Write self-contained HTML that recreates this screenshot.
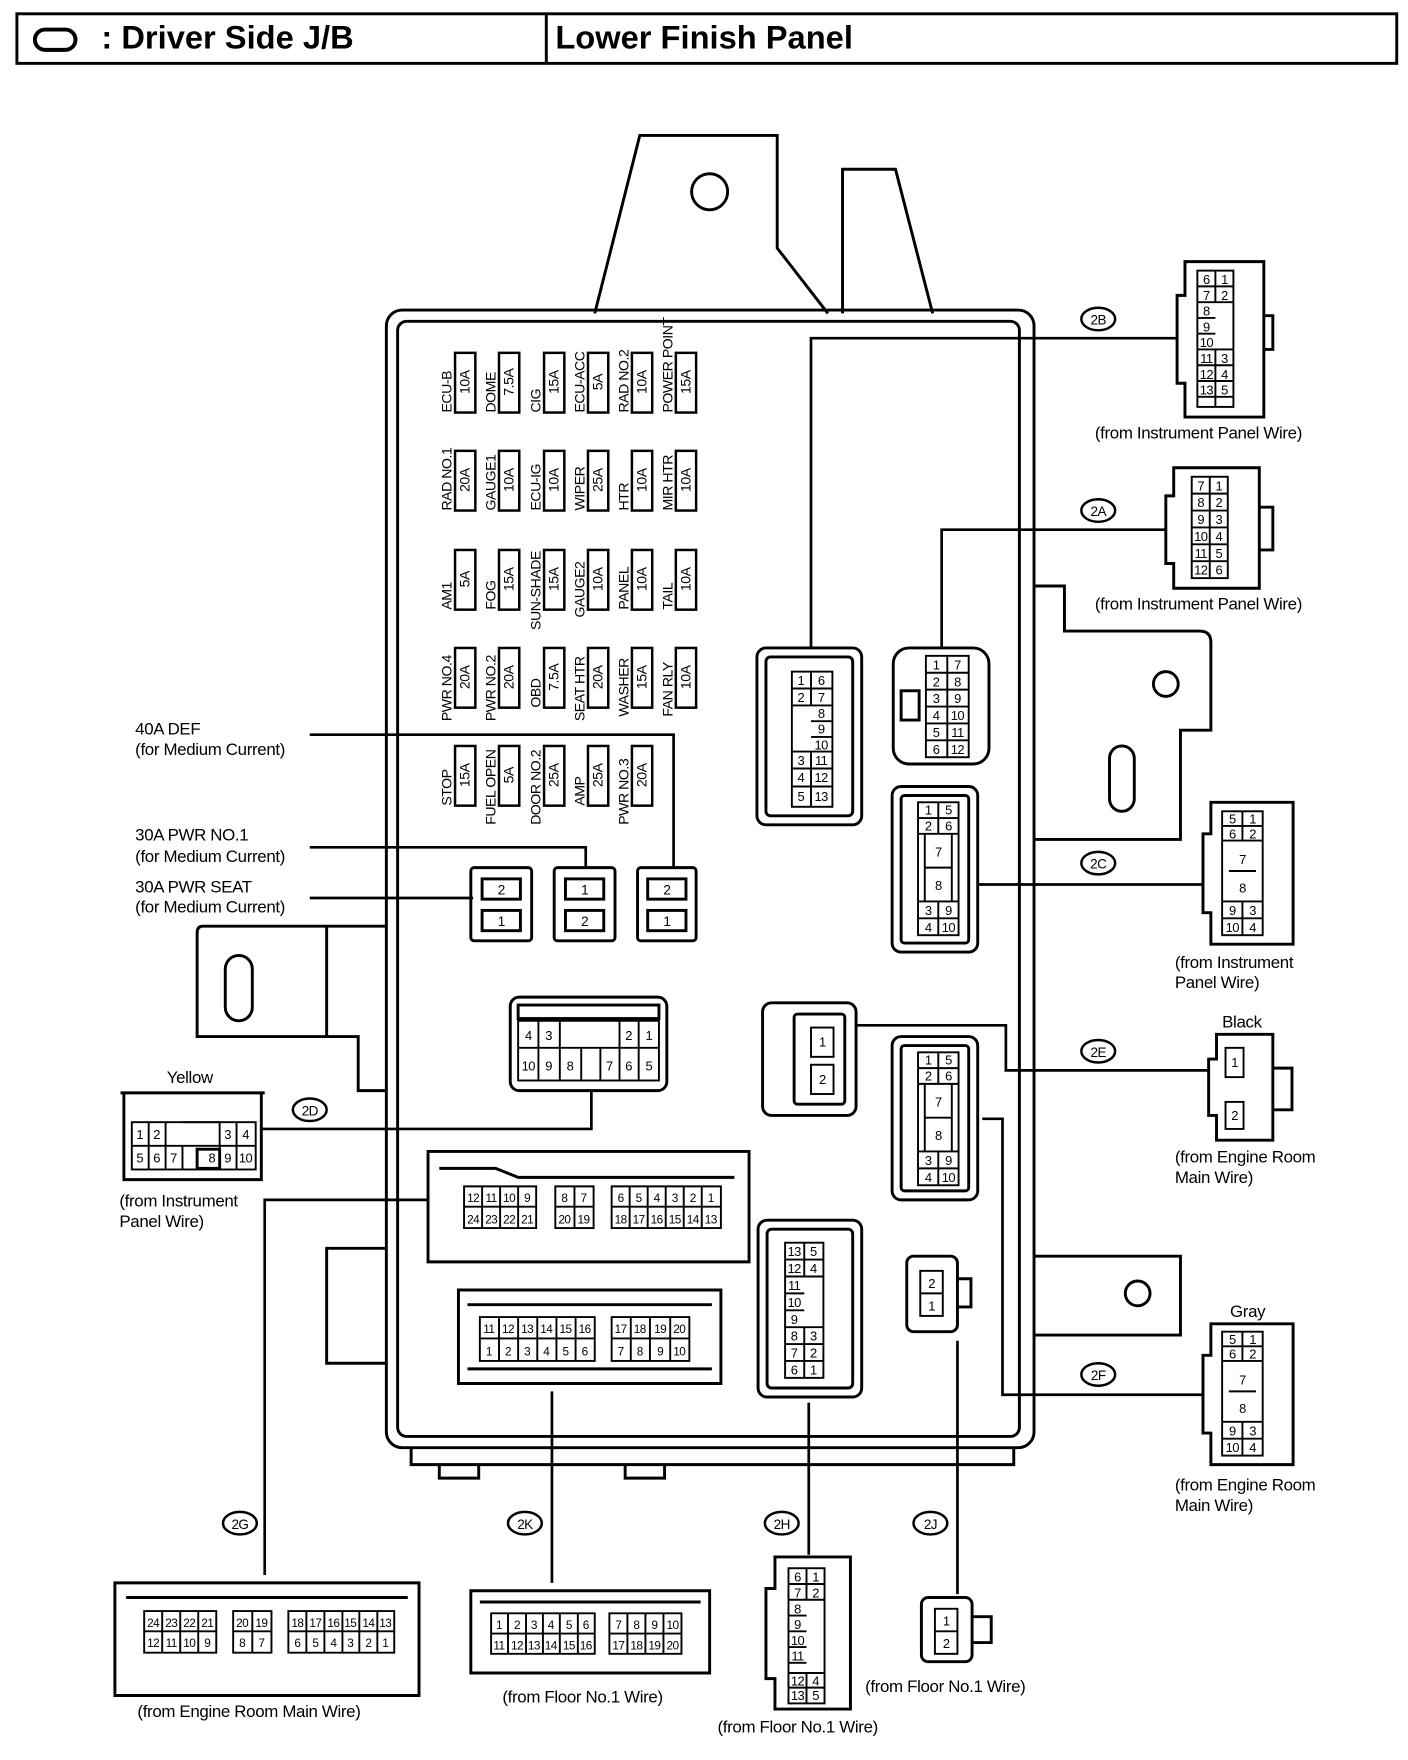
<!DOCTYPE html>
<html><head><meta charset="utf-8"><style>
html,body{margin:0;padding:0;background:#fff}
svg{display:block}
text{font-family:"Liberation Sans Narrow","Liberation Sans",sans-serif;fill:#000}
.c{font-size:12px;text-anchor:middle;letter-spacing:-0.5px}
.l{font-size:15px;letter-spacing:-0.3px}
.f{font-size:12.5px;letter-spacing:-0.4px}
</style></head><body>
<svg width="1408" height="1760" viewBox="0 0 1250 1562" xmlns="http://www.w3.org/2000/svg">
<g fill="none" stroke="#000" stroke-width="2.6">
<rect x="15" y="12" width="1225" height="44"/>
<line x1="485" y1="12" x2="485" y2="56"/>
<rect x="31" y="26" width="36" height="18" rx="9" stroke-width="3.5"/>
<path d="M528 278 L568 120 L690 120 L690 220 L735 278"/>
<circle cx="630" cy="170" r="16"/>
<path d="M748 278 L748 150 L795 150 L828 278"/>
<rect x="343" y="275" width="575" height="1010" rx="14"/>
<rect x="353" y="285" width="552" height="990" rx="8"/>
<path d="M918 520 L945 520 L945 560 L1065 560 Q1075 560 1075 570 L1075 648 L1048 648 L1048 745 L918 745"/>
<circle cx="1035" cy="607" r="11"/>
<rect x="985" y="662" width="22" height="58" rx="11"/>
<path d="M918 1115 L1048 1115 L1048 1185 L918 1185"/>
<circle cx="1010" cy="1148" r="11"/>
<path d="M343 822 L180 822 Q175 822 175 828 L175 920 L318 920 L318 968 L343 968"/>
<rect x="200" y="848" width="24" height="58" rx="12"/>
<line x1="290" y1="822" x2="290" y2="920"/>
<path d="M343 1108 L290 1108 L290 1210 L343 1210"/>
<path d="M365 1285 L365 1300 L900 1300 L900 1285"/>
<path d="M390 1300 L390 1312 L425 1312 L425 1300 M555 1300 L555 1312 L590 1312 L590 1300"/>
</g>
<text x="90" y="43" style="font-family:'Liberation Sans',sans-serif;font-size:29px;font-weight:bold">: Driver Side J/B</text>
<text x="493" y="43" style="font-family:'Liberation Sans',sans-serif;font-size:29px;font-weight:bold">Lower Finish Panel</text>

<g fill="none" stroke="#000" stroke-width="2.2">
<g id="fr"><rect x="404" y="313" width="18" height="53"/><rect x="443" y="313" width="18" height="53"/><rect x="483" y="313" width="18" height="53"/><rect x="522" y="313" width="18" height="53"/><rect x="561" y="313" width="18" height="53"/><rect x="600" y="313" width="18" height="53"/></g>
<use href="#fr" y="87"/><use href="#fr" y="175"/><use href="#fr" y="262"/>
<rect x="404" y="662" width="18" height="53"/><rect x="443" y="662" width="18" height="53"/><rect x="483" y="662" width="18" height="53"/><rect x="522" y="662" width="18" height="53"/><rect x="561" y="662" width="18" height="53"/>
</g>
<g class="f">
<text transform="translate(401,366) rotate(-90)">ECU-B</text><text transform="translate(417,339) rotate(-90)" text-anchor="middle">10A</text>
<text transform="translate(440,366) rotate(-90)">DOME</text><text transform="translate(456,339) rotate(-90)" text-anchor="middle">7.5A</text>
<text transform="translate(480,366) rotate(-90)">CIG</text><text transform="translate(496,339) rotate(-90)" text-anchor="middle">15A</text>
<text transform="translate(519,366) rotate(-90)">ECU-ACC</text><text transform="translate(535,339) rotate(-90)" text-anchor="middle">5A</text>
<text transform="translate(558,366) rotate(-90)">RAD NO.2</text><text transform="translate(574,339) rotate(-90)" text-anchor="middle">10A</text>
<text transform="translate(597,366) rotate(-90)">POWER POINT</text><text transform="translate(613,339) rotate(-90)" text-anchor="middle">15A</text>
<text transform="translate(401,453) rotate(-90)">RAD NO.1</text><text transform="translate(417,426) rotate(-90)" text-anchor="middle">20A</text>
<text transform="translate(440,453) rotate(-90)">GAUGE1</text><text transform="translate(456,426) rotate(-90)" text-anchor="middle">10A</text>
<text transform="translate(480,453) rotate(-90)">ECU-IG</text><text transform="translate(496,426) rotate(-90)" text-anchor="middle">10A</text>
<text transform="translate(519,453) rotate(-90)">WIPER</text><text transform="translate(535,426) rotate(-90)" text-anchor="middle">25A</text>
<text transform="translate(558,453) rotate(-90)">HTR</text><text transform="translate(574,426) rotate(-90)" text-anchor="middle">10A</text>
<text transform="translate(597,453) rotate(-90)">MIR HTR</text><text transform="translate(613,426) rotate(-90)" text-anchor="middle">10A</text>
<text transform="translate(401,541) rotate(-90)">AM1</text><text transform="translate(417,514) rotate(-90)" text-anchor="middle">5A</text>
<text transform="translate(440,541) rotate(-90)">FOG</text><text transform="translate(456,514) rotate(-90)" text-anchor="middle">15A</text>
<text transform="translate(480,559) rotate(-90)">SUN-SHADE</text><text transform="translate(496,514) rotate(-90)" text-anchor="middle">15A</text>
<text transform="translate(519,548) rotate(-90)">GAUGE2</text><text transform="translate(535,514) rotate(-90)" text-anchor="middle">10A</text>
<text transform="translate(558,541) rotate(-90)">PANEL</text><text transform="translate(574,514) rotate(-90)" text-anchor="middle">10A</text>
<text transform="translate(597,541) rotate(-90)">TAIL</text><text transform="translate(613,514) rotate(-90)" text-anchor="middle">10A</text>
<text transform="translate(401,640) rotate(-90)">PWR NO.4</text><text transform="translate(417,601) rotate(-90)" text-anchor="middle">20A</text>
<text transform="translate(440,640) rotate(-90)">PWR NO.2</text><text transform="translate(456,601) rotate(-90)" text-anchor="middle">20A</text>
<text transform="translate(480,628) rotate(-90)">OBD</text><text transform="translate(496,601) rotate(-90)" text-anchor="middle">7.5A</text>
<text transform="translate(519,640) rotate(-90)">SEAT HTR</text><text transform="translate(535,601) rotate(-90)" text-anchor="middle">20A</text>
<text transform="translate(558,636) rotate(-90)">WASHER</text><text transform="translate(574,601) rotate(-90)" text-anchor="middle">15A</text>
<text transform="translate(597,636) rotate(-90)">FAN RLY</text><text transform="translate(613,601) rotate(-90)" text-anchor="middle">10A</text>
<text transform="translate(401,715) rotate(-90)">STOP</text><text transform="translate(417,688) rotate(-90)" text-anchor="middle">15A</text>
<text transform="translate(440,732) rotate(-90)">FUEL OPEN</text><text transform="translate(456,688) rotate(-90)" text-anchor="middle">5A</text>
<text transform="translate(480,732) rotate(-90)">DOOR NO.2</text><text transform="translate(496,688) rotate(-90)" text-anchor="middle">25A</text>
<text transform="translate(519,715) rotate(-90)">AMP</text><text transform="translate(535,688) rotate(-90)" text-anchor="middle">25A</text>
<text transform="translate(558,732) rotate(-90)">PWR NO.3</text><text transform="translate(574,688) rotate(-90)" text-anchor="middle">20A</text>
</g>

<g fill="none" stroke="#000" stroke-width="2.6">
<rect x="418" y="770" width="54" height="65" rx="3"/><rect x="428" y="780" width="34" height="18"/><rect x="428" y="808" width="34" height="18"/>
<rect x="492" y="770" width="54" height="65" rx="3"/><rect x="502" y="780" width="34" height="18"/><rect x="502" y="808" width="34" height="18"/>
<rect x="566" y="770" width="52" height="65" rx="3"/><rect x="575" y="780" width="34" height="18"/><rect x="575" y="808" width="34" height="18"/>
</g>
<g class="c"><text x="445" y="794">2</text><text x="445" y="822">1</text><text x="519" y="794">1</text><text x="519" y="822">2</text><text x="592" y="794">2</text><text x="592" y="822">1</text></g>

<g fill="none" stroke="#000" stroke-width="2.4">
<path d="M275 652 L598 652 L598 770"/>
<path d="M275 752 L520 752 L520 770"/>
<path d="M275 797 L420 797"/>
<path d="M720 575 L720 300 L1045 300"/>
<path d="M836 575 L836 470 L1035 470"/>
<path d="M868 785 L1068 785"/>
<path d="M760 910 L893 910 L893 950 L1073 950"/>
<path d="M872 993 L890 993 L890 1238 L1068 1238"/>
<path d="M525 968 L525 1002 L232 1002"/>
<path d="M380 1065 L235 1065 L235 1398"/>
<path d="M490 1235 L490 1405"/>
<path d="M718 1245 L718 1380"/>
<path d="M850 1190 L850 1415"/>
</g>
<g fill="#fff" stroke="#000" stroke-width="2.2">
<ellipse cx="975" cy="283" rx="15" ry="10"/><ellipse cx="975" cy="453" rx="15" ry="10"/><ellipse cx="975" cy="766" rx="15" ry="10"/><ellipse cx="975" cy="933" rx="15" ry="10"/><ellipse cx="975" cy="1220" rx="15" ry="10"/><ellipse cx="275" cy="985" rx="15" ry="10"/><ellipse cx="213" cy="1352" rx="15" ry="10"/><ellipse cx="466" cy="1352" rx="15" ry="10"/><ellipse cx="694" cy="1352" rx="15" ry="10"/><ellipse cx="826" cy="1352" rx="15" ry="10"/>
</g>
<g class="c" style="font-size:12px">
<text x="975" y="288">2B</text><text x="975" y="458">2A</text><text x="975" y="771">2C</text><text x="975" y="938">2E</text><text x="975" y="1225">2F</text><text x="275" y="990">2D</text><text x="213" y="1357">2G</text><text x="466" y="1357">2K</text><text x="694" y="1357">2H</text><text x="826" y="1357">2J</text>
</g>

<g class="l">
<text x="120" y="652">40A DEF</text><text x="120" y="670">(for Medium Current)</text>
<text x="120" y="746">30A PWR NO.1</text><text x="120" y="765">(for Medium Current)</text>
<text x="120" y="792">30A PWR SEAT</text><text x="120" y="810">(for Medium Current)</text>
<text x="972" y="389">(from Instrument Panel Wire)</text>
<text x="972" y="541">(from Instrument Panel Wire)</text>
<text x="1043" y="859">(from Instrument</text><text x="1043" y="877">Panel Wire)</text>
<text x="1085" y="912">Black</text>
<text x="1043" y="1032">(from Engine Room</text><text x="1043" y="1050">Main Wire)</text>
<text x="1092" y="1169">Gray</text>
<text x="1043" y="1323">(from Engine Room</text><text x="1043" y="1341">Main Wire)</text>
<text x="148" y="961">Yellow</text>
<text x="106" y="1071">(from Instrument</text><text x="106" y="1089">Panel Wire)</text>
<text x="122" y="1524">(from Engine Room Main Wire)</text>
<text x="446" y="1511">(from Floor No.1 Wire)</text>
<text x="637" y="1538">(from Floor No.1 Wire)</text>
<text x="768" y="1502">(from Floor No.1 Wire)</text>
</g>

<g fill="none" stroke="#000" stroke-width="2.6">
<path d="M1052 232 L1122 232 L1122 370 L1052 370 L1052 340 L1045 340 L1045 262 L1052 262 Z"/>
<path d="M1122 280 L1130 280 L1130 310 L1122 310"/>
<path d="M1042 415 L1118 415 L1118 522 L1042 522 L1042 500 L1035 500 L1035 440 L1042 440 Z"/>
<path d="M1118 450 L1130 450 L1130 488 L1118 488"/>
<rect x="672" y="575" width="93" height="157" rx="8"/><rect x="680" y="583" width="77" height="141" rx="4"/>
<rect x="793" y="575" width="85" height="103" rx="14"/><rect x="800" y="613" width="16" height="26"/>
<rect x="792" y="698" width="76" height="147" rx="8"/><rect x="800" y="706" width="60" height="131" rx="3"/>
<path d="M1075 712 L1148 712 L1148 838 L1075 838 L1075 810 L1068 810 L1068 740 L1075 740 Z"/>
<rect x="677" y="890" width="83" height="100" rx="8"/><rect x="705" y="900" width="45" height="80" rx="3"/>
<path d="M1080 918 L1130 918 L1130 1012 L1080 1012 L1080 990 L1073 990 L1073 940 L1080 940 Z"/><path d="M1130 948 L1147 948 L1147 985 L1130 985"/>
<rect x="792" y="920" width="76" height="145" rx="8"/><rect x="800" y="928" width="60" height="129" rx="3"/>
<path d="M1075 1175 L1148 1175 L1148 1300 L1075 1300 L1075 1272 L1068 1272 L1068 1203 L1075 1203 Z"/>
<rect x="673" y="1083" width="92" height="157" rx="8"/><rect x="681" y="1091" width="76" height="141" rx="4"/>
<rect x="805" y="1115" width="45" height="67" rx="6"/><path d="M850 1135 L862 1135 L862 1160 L850 1160"/>
<path d="M688 1382 L755 1382 L755 1517 L688 1517 L688 1490 L680 1490 L680 1410 L688 1410 Z"/>
<rect x="818" y="1418" width="45" height="57" rx="6"/><path d="M863 1435 L880 1435 L880 1458 L863 1458"/>
<rect x="453" y="885" width="139" height="83" rx="8"/><rect x="460" y="892" width="125" height="12"/>
<path d="M110 970 L110 1047 L232 1047 L232 970"/><line x1="107" y1="970" x2="235" y2="970"/><rect x="175" y="1020" width="20" height="17"/>
<path d="M380 1022 L665 1022 L665 1120 L380 1120 Z"/><path d="M390 1037 L440 1037 L460 1045 L652 1045"/>
<path d="M102 1405 L372 1405 L372 1505 L102 1505 Z"/><path d="M112 1418 L362 1418"/>
<path d="M407 1145 L640 1145 L640 1228 L407 1228 Z"/><path d="M415 1158 L632 1158 M415 1215 L632 1215"/>
<path d="M418 1412 L630 1412 L630 1485 L418 1485 Z"/><path d="M426 1422 L622 1422"/>
</g>

<g fill="none" stroke="#000" stroke-width="1.7">
<rect x="1063" y="240" width="32" height="121"/><path d="M1079 240 V268 M1079 310 V361 M1063 254 H1095 M1063 268 H1095 M1063 282 H1079 M1063 296 H1079 M1063 310 H1095 M1063 324 H1095 M1063 338 H1095 M1063 352 H1095"/>
<rect x="1058" y="423" width="32" height="90"/><path d="M1074 423 V513 M1058 438 H1090 M1058 453 H1090 M1058 468 H1090 M1058 483 H1090 M1058 498 H1090"/>
<rect x="703" y="596" width="36" height="120"/><path d="M720 596 V626 M720 667 V716 M703 611 H739 M703 626 H739 M720 640 H739 M720 654 H739 M703 667 H739 M703 682 H739 M703 698 H739"/>
<rect x="822" y="582" width="38" height="90"/><path d="M841 582 V672 M822 597 H860 M822 612 H860 M822 627 H860 M822 642 H860 M822 657 H860"/>
<g id="c2c"><rect x="815" y="712" width="36" height="118"/><path d="M833 712 V740 M833 800 V830 M815 726 H851 M815 740 H851 M821 770 H845 M821 740 V800 M845 740 V800 M815 800 H851 M815 815 H851"/></g>
<use href="#c2c" y="222"/>
<g id="e2c"><rect x="1085" y="720" width="36" height="110"/><path d="M1103 720 V746 M1103 800 V830 M1085 733 H1121 M1085 746 H1121 M1091 773 H1115 M1085 800 H1121 M1085 815 H1121"/></g>
<use href="#e2c" y="462"/>
<rect x="720" y="912" width="20" height="26"/><rect x="720" y="945" width="20" height="26"/>
<rect x="1088" y="930" width="16" height="26"/><rect x="1088" y="978" width="16" height="24"/>
<rect x="697" y="1103" width="34" height="120"/><path d="M714 1103 V1133 M714 1178 V1223 M697 1118 H731 M697 1133 H731 M697 1148 H714 M697 1163 H714 M697 1178 H731 M697 1193 H731 M697 1208 H731"/>
<rect x="817" y="1128" width="20" height="40"/><path d="M817 1148 H837"/>
<rect x="700" y="1392" width="32" height="120"/><path d="M716 1392 V1420 M716 1485 V1512 M700 1406 H732 M700 1420 H732 M700 1434 H716 M700 1448 H716 M700 1462 H716 M700 1476 H716 M700 1485 H732 M700 1498 H732"/>
<rect x="830" y="1428" width="20" height="40"/><path d="M830 1448 H850"/>
<rect x="460" y="906" width="125" height="53"/><path d="M460 930 H585 M478 906 V959 M497 906 V959 M516 930 V959 M533 930 V959 M550 906 V959 M567 906 V959"/>
<rect x="117" y="996" width="110" height="42"/><path d="M117 1017 H227 M132 996 V1038 M147 996 V1038 M162 1017 V1038 M195 996 V1038 M210 996 V1038 M162 996 H195"/>
<path d="M412 1053 H476 V1090 H412 Z M412 1071 H476 M428 1053 V1090 M444 1053 V1090 M460 1053 V1090"/>
<path d="M493 1053 H527 V1090 H493 Z M493 1071 H527 M510 1053 V1090"/>
<path d="M543 1053 H640 V1090 H543 Z M543 1071 H640 M559 1053 V1090 M575 1053 V1090 M591 1053 V1090 M607 1053 V1090 M623 1053 V1090"/>
<path d="M128 1430 H192 V1467 H128 Z M128 1448 H192 M144 1430 V1467 M160 1430 V1467 M176 1430 V1467"/>
<path d="M207 1430 H241 V1467 H207 Z M207 1448 H241 M224 1430 V1467"/>
<path d="M256 1430 H350 V1467 H256 Z M256 1448 H350 M272 1430 V1467 M288 1430 V1467 M304 1430 V1467 M319 1430 V1467 M335 1430 V1467"/>
<path d="M426 1169 H528 V1208 H426 Z M426 1188 H528 M443 1169 V1208 M460 1169 V1208 M477 1169 V1208 M494 1169 V1208 M511 1169 V1208"/>
<path d="M543 1169 H612 V1208 H543 Z M543 1188 H612 M560 1169 V1208 M577 1169 V1208 M595 1169 V1208"/>
<path d="M436 1432 H528 V1468 H436 Z M436 1450 H528 M451 1432 V1468 M467 1432 V1468 M482 1432 V1468 M497 1432 V1468 M513 1432 V1468"/>
<path d="M541 1432 H605 V1468 H541 Z M541 1450 H605 M557 1432 V1468 M573 1432 V1468 M589 1432 V1468"/>
</g>

<g class="c" style="font-size:11.5px">
<text x="1071" y="252">6</text><text x="1087" y="252">1</text><text x="1071" y="266">7</text><text x="1087" y="266">2</text><text x="1071" y="280">8</text><text x="1071" y="294">9</text><text x="1071" y="308">10</text><text x="1071" y="322">11</text><text x="1087" y="322">3</text><text x="1071" y="336">12</text><text x="1087" y="336">4</text><text x="1071" y="350">13</text><text x="1087" y="350">5</text>
<text x="1066" y="435">7</text><text x="1082" y="435">1</text><text x="1066" y="450">8</text><text x="1082" y="450">2</text><text x="1066" y="465">9</text><text x="1082" y="465">3</text><text x="1066" y="480">10</text><text x="1082" y="480">4</text><text x="1066" y="495">11</text><text x="1082" y="495">5</text><text x="1066" y="510">12</text><text x="1082" y="510">6</text>
<text x="711" y="608">1</text><text x="729" y="608">6</text><text x="711" y="623">2</text><text x="729" y="623">7</text><text x="729" y="637">8</text><text x="729" y="651">9</text><text x="729" y="665">10</text><text x="711" y="679">3</text><text x="729" y="679">11</text><text x="711" y="694">4</text><text x="729" y="694">12</text><text x="711" y="711">5</text><text x="729" y="711">13</text>
<text x="831" y="594">1</text><text x="850" y="594">7</text><text x="831" y="609">2</text><text x="850" y="609">8</text><text x="831" y="624">3</text><text x="850" y="624">9</text><text x="831" y="639">4</text><text x="850" y="639">10</text><text x="831" y="654">5</text><text x="850" y="654">11</text><text x="831" y="669">6</text><text x="850" y="669">12</text>
<text x="824" y="723">1</text><text x="842" y="723">5</text><text x="824" y="737">2</text><text x="842" y="737">6</text><text x="833" y="760">7</text><text x="833" y="790">8</text><text x="824" y="812">3</text><text x="842" y="812">9</text><text x="824" y="827">4</text><text x="842" y="827">10</text>
<text x="824" y="945">1</text><text x="842" y="945">5</text><text x="824" y="959">2</text><text x="842" y="959">6</text><text x="833" y="982">7</text><text x="833" y="1012">8</text><text x="824" y="1034">3</text><text x="842" y="1034">9</text><text x="824" y="1049">4</text><text x="842" y="1049">10</text>
<text x="1094" y="731">5</text><text x="1112" y="731">1</text><text x="1094" y="744">6</text><text x="1112" y="744">2</text><text x="1103" y="767">7</text><text x="1103" y="792">8</text><text x="1094" y="812">9</text><text x="1112" y="812">3</text><text x="1094" y="827">10</text><text x="1112" y="827">4</text>
<text x="1094" y="1193">5</text><text x="1112" y="1193">1</text><text x="1094" y="1206">6</text><text x="1112" y="1206">2</text><text x="1103" y="1229">7</text><text x="1103" y="1254">8</text><text x="1094" y="1274">9</text><text x="1112" y="1274">3</text><text x="1094" y="1289">10</text><text x="1112" y="1289">4</text>
<text x="730" y="929">1</text><text x="730" y="962">2</text><text x="1096" y="947">1</text><text x="1096" y="994">2</text>
<text x="705" y="1115">13</text><text x="722" y="1115">5</text><text x="705" y="1130">12</text><text x="722" y="1130">4</text><text x="705" y="1145">11</text><text x="705" y="1160">10</text><text x="705" y="1175">9</text><text x="705" y="1190">8</text><text x="722" y="1190">3</text><text x="705" y="1205">7</text><text x="722" y="1205">2</text><text x="705" y="1220">6</text><text x="722" y="1220">1</text>
<text x="827" y="1143">2</text><text x="827" y="1163">1</text>
<text x="708" y="1404">6</text><text x="724" y="1404">1</text><text x="708" y="1418">7</text><text x="724" y="1418">2</text><text x="708" y="1432">8</text><text x="708" y="1446">9</text><text x="708" y="1460">10</text><text x="708" y="1474">11</text><text x="708" y="1496">12</text><text x="724" y="1496">4</text><text x="708" y="1509">13</text><text x="724" y="1509">5</text>
<text x="840" y="1443">1</text><text x="840" y="1463">2</text>
<text x="469" y="923">4</text><text x="487" y="923">3</text><text x="558" y="923">2</text><text x="576" y="923">1</text>
<text x="469" y="950">10</text><text x="487" y="950">9</text><text x="506" y="950">8</text><text x="541" y="950">7</text><text x="558" y="950">6</text><text x="576" y="950">5</text>
<text x="124" y="1011">1</text><text x="139" y="1011">2</text><text x="202" y="1011">3</text><text x="218" y="1011">4</text>
<text x="124" y="1032">5</text><text x="139" y="1032">6</text><text x="154" y="1032">7</text><text x="202" y="1032">9</text><text x="188" y="1032">8</text><text x="218" y="1032">10</text>
</g>
<g class="c" style="font-size:10.5px">
<text x="420" y="1067">12</text><text x="436" y="1067">11</text><text x="452" y="1067">10</text><text x="468" y="1067">9</text><text x="501" y="1067">8</text><text x="518" y="1067">7</text>
<text x="551" y="1067">6</text><text x="567" y="1067">5</text><text x="583" y="1067">4</text><text x="599" y="1067">3</text><text x="615" y="1067">2</text><text x="631" y="1067">1</text>
<text x="420" y="1086">24</text><text x="436" y="1086">23</text><text x="452" y="1086">22</text><text x="468" y="1086">21</text><text x="501" y="1086">20</text><text x="518" y="1086">19</text>
<text x="551" y="1086">18</text><text x="567" y="1086">17</text><text x="583" y="1086">16</text><text x="599" y="1086">15</text><text x="615" y="1086">14</text><text x="631" y="1086">13</text>
<text x="136" y="1444">24</text><text x="152" y="1444">23</text><text x="168" y="1444">22</text><text x="184" y="1444">21</text><text x="215" y="1444">20</text><text x="232" y="1444">19</text>
<text x="264" y="1444">18</text><text x="280" y="1444">17</text><text x="296" y="1444">16</text><text x="311" y="1444">15</text><text x="327" y="1444">14</text><text x="342" y="1444">13</text>
<text x="136" y="1462">12</text><text x="152" y="1462">11</text><text x="168" y="1462">10</text><text x="184" y="1462">9</text><text x="215" y="1462">8</text><text x="232" y="1462">7</text>
<text x="264" y="1462">6</text><text x="280" y="1462">5</text><text x="296" y="1462">4</text><text x="311" y="1462">3</text><text x="327" y="1462">2</text><text x="342" y="1462">1</text>
<text x="434" y="1183">11</text><text x="451" y="1183">12</text><text x="468" y="1183">13</text><text x="485" y="1183">14</text><text x="502" y="1183">15</text><text x="519" y="1183">16</text><text x="551" y="1183">17</text><text x="568" y="1183">18</text><text x="586" y="1183">19</text><text x="603" y="1183">20</text>
<text x="434" y="1203">1</text><text x="451" y="1203">2</text><text x="468" y="1203">3</text><text x="485" y="1203">4</text><text x="502" y="1203">5</text><text x="519" y="1203">6</text><text x="551" y="1203">7</text><text x="568" y="1203">8</text><text x="586" y="1203">9</text><text x="603" y="1203">10</text>
<text x="443" y="1446">1</text><text x="459" y="1446">2</text><text x="474" y="1446">3</text><text x="489" y="1446">4</text><text x="505" y="1446">5</text><text x="520" y="1446">6</text><text x="549" y="1446">7</text><text x="565" y="1446">8</text><text x="581" y="1446">9</text><text x="597" y="1446">10</text>
<text x="443" y="1464">11</text><text x="459" y="1464">12</text><text x="474" y="1464">13</text><text x="489" y="1464">14</text><text x="505" y="1464">15</text><text x="520" y="1464">16</text><text x="549" y="1464">17</text><text x="565" y="1464">18</text><text x="581" y="1464">19</text><text x="597" y="1464">20</text>
</g>
</svg>
</body></html>
